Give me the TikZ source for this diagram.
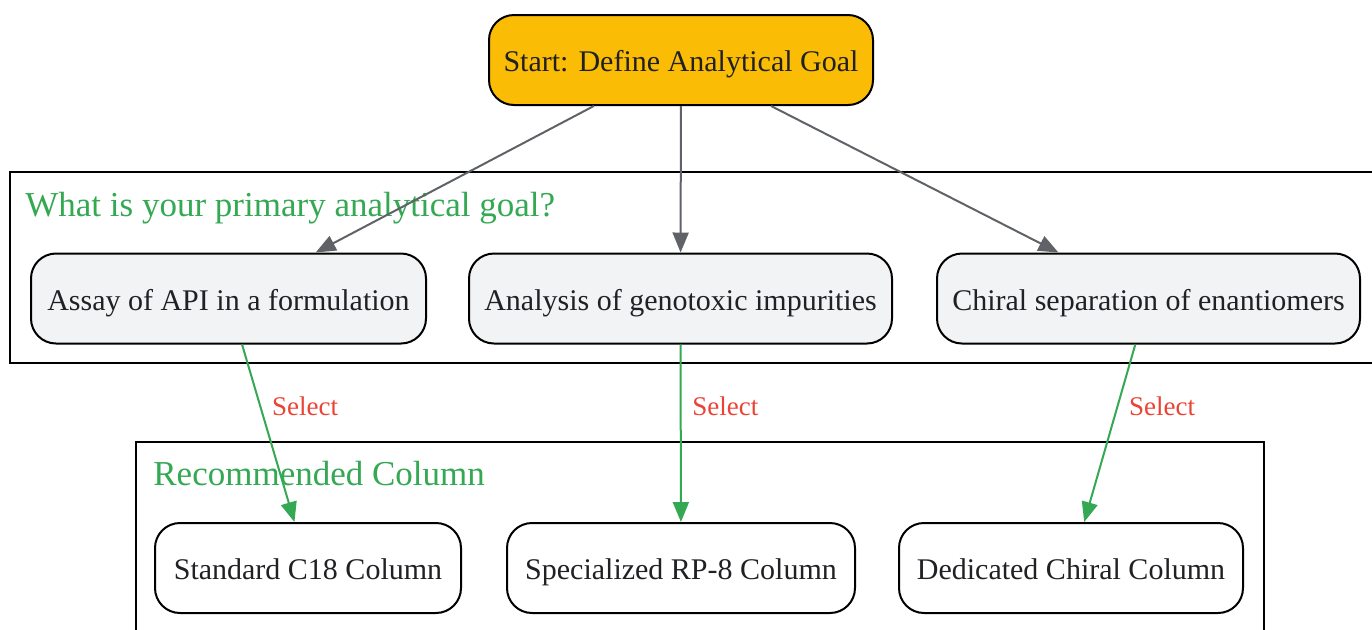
\documentclass[tikz,border=0pt]{standalone}
\usepackage{fontspec}
\setmainfont{Liberation Serif}
\usetikzlibrary{arrows.meta}
\definecolor{goalyellow}{HTML}{FBBC05}
\definecolor{edgegrey}{HTML}{5F6368}
\definecolor{selgreen}{HTML}{34A853}
\definecolor{selred}{HTML}{EA4335}
\definecolor{boxgrey}{HTML}{F1F3F4}
\definecolor{inktext}{HTML}{202124}

\begin{document}
\begin{tikzpicture}[x=0.5pt,y=-0.5pt,
		stepnode/.style={draw,line width=1pt,rounded corners=12.5pt,minimum height=45pt,text height=12pt,text depth=0.5pt,text=inktext,font=\fontsize{15}{18}\selectfont},
		goalnode/.style={stepnode,fill=boxgrey},
		colnode/.style={stepnode,fill=white},
		clusterbox/.style={draw,line width=1pt},
		clustertitle/.style={text=selgreen,anchor=base west,inner sep=0pt,font=\fontsize{17.5}{20}\selectfont},
		greyarrow/.style={draw=edgegrey,line width=1pt,-{Triangle[length=10pt,width=8pt]}},
		greenarrow/.style={draw=selgreen,line width=1pt,-{Triangle[length=10pt,width=8pt]}},
		sellabel/.style={text=selred,right,pos=0.35,xshift=2pt,font=\fontsize{13.5}{16}\selectfont}]
		\useasboundingbox (0,0) rectangle (1372,629);
		% clusters
		\draw[clusterbox] (10,172) rectangle (1385,363);
		\draw[clusterbox] (136,442) rectangle (1264,645);
		\node[clustertitle] (goaltitle) at (25,216) {What is your primary analytical goal?};
		\node[clustertitle] (coltitle) at (153,485) {Recommended Column};
		% nodes
		\node[stepnode,fill=goalyellow,minimum width=192pt] (start) at (681,60) {Start: Define Analytical Goal};
		\node[goalnode,minimum width=197.5pt] (assay) at (228.5,298.5) {Assay of API in a formulation};
		\node[goalnode,minimum width=211.5pt] (genotox) at (680.5,298.5) {Analysis of genotoxic impurities};
		\node[goalnode,minimum width=211.5pt] (chiral) at (1148.5,298.5) {Chiral separation of enantiomers};
		\node[colnode,minimum width=153pt] (c18) at (308,568) {Standard C18 Column};
		\node[colnode,minimum width=174pt] (rp8) at (681,568) {Specialized RP-8 Column};
		\node[colnode,minimum width=172pt] (chiralcol) at (1071,568) {Dedicated Chiral Column};
		% edges
		\draw[greyarrow] (start) -- (assay);
		\draw[greyarrow] (start) -- (genotox);
		\draw[greyarrow] (start) -- (chiral);
		\draw[greenarrow] (assay) -- (c18) node[sellabel] {Select};
		\draw[greenarrow] (genotox) -- (rp8) node[sellabel] {Select};
		\draw[greenarrow] (chiral) -- (chiralcol) node[sellabel] {Select};
\end{tikzpicture}
\end{document}
